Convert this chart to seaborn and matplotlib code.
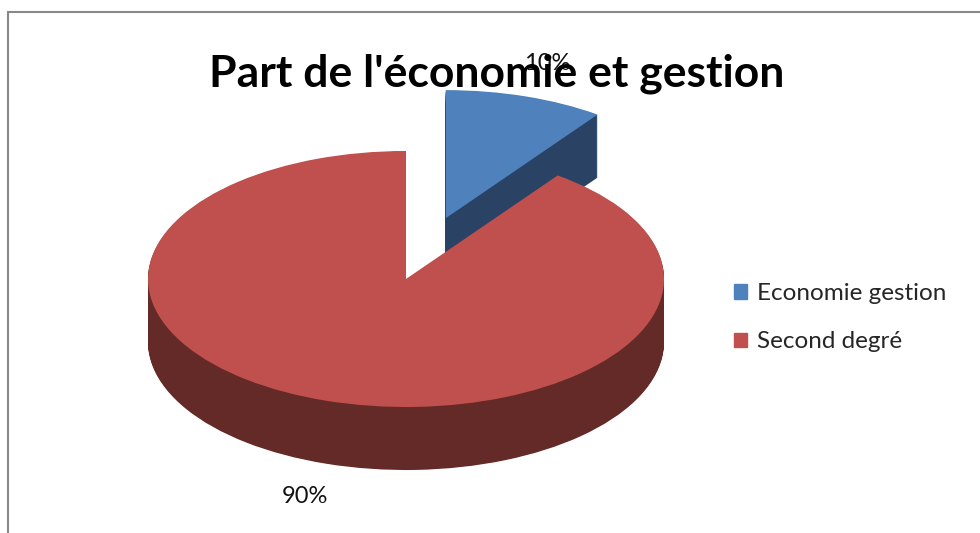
import numpy as np
import seaborn as sns
import matplotlib
matplotlib.use("Agg")
import matplotlib.pyplot as plt
from matplotlib.patches import Rectangle

# data
categories = ["Economie gestion", "Second degré"]
shares = [10, 90]
pct_labels = ["10%", "90%"]
explode = [0.5, 0.0]

top_colors = ["#4F81BD", "#C0504D"]
side_colors = ["#2A4365", "#632A28"]

sns.set_theme(style="white")
plt.rcParams['font.family'] = ['Lato', 'DejaVu Sans']

W, H = 980, 533
fig = plt.figure(figsize=(W / 100, H / 100), dpi=100)
ax = fig.add_axes([0, 0, 1, 1])

# pie geometry in pixels (center, radii, wall depth)
cx, cy, rx, ry = 406, 279, 258, 128
depth = 63 / ry  # in y units (ry px per unit)
n_layers = 90

# painter's order: back slice (blue) first, then front slice (red)
for i in range(len(shares)):
    for k in range(n_layers, 0, -1):
        cols = ["none"] * len(shares)
        cols[i] = side_colors[i]
        ax.pie(shares, colors=cols, explode=explode, startangle=90, counterclock=False,
               center=(0, -depth * k / n_layers), radius=1,
               wedgeprops=dict(linewidth=0, antialiased=True))
    cols = ["none"] * len(shares)
    cols[i] = top_colors[i]
    ax.pie(shares, colors=cols, explode=explode, startangle=90, counterclock=False,
           center=(0, 0), radius=1, wedgeprops=dict(linewidth=0))

# percentage labels, placed outside each slice
start = 90
total = sum(shares)
for val, lab, ex in zip(shares, pct_labels, explode):
    sweep = 360 * val / total
    mid = np.deg2rad(start - sweep / 2)
    start -= sweep
    x = (ex + 1.27) * np.cos(mid)
    y = (ex + 1.27) * np.sin(mid)
    if np.sin(mid) < 0:
        y -= depth
    ax.text(x, y, lab, ha="center", va="center", fontsize=17, color="#111111")

ax.set_aspect("auto")
ax.set_xlim(-cx / rx, (W - cx) / rx)
ax.set_ylim((cy - H) / ry, cy / ry)
ax.axis("off")

# legend
handles = [Rectangle((0, 0), 1, 1, color=c) for c in top_colors]
fig.legend(handles, categories, loc="upper left", bbox_to_anchor=(734 / W, 1 - 283 / H),
           frameon=False, fontsize=17.5, handlelength=0.55, handleheight=0.55,
           handletextpad=0.4, labelspacing=1.13, borderpad=0, borderaxespad=0)

# title
fig.text(497 / W, 1 - 87 / H, "Part de l'économie et gestion", ha="center", va="baseline",
         fontsize=32, fontweight="bold", color="black")

# chart frame
fig.patches.append(Rectangle((8 / W, -0.1), 1.2, 1 - 12 / H + 0.1, transform=fig.transFigure,
                             fill=False, edgecolor="#888888", linewidth=1.5))

fig.savefig("out.png", dpi=100)
